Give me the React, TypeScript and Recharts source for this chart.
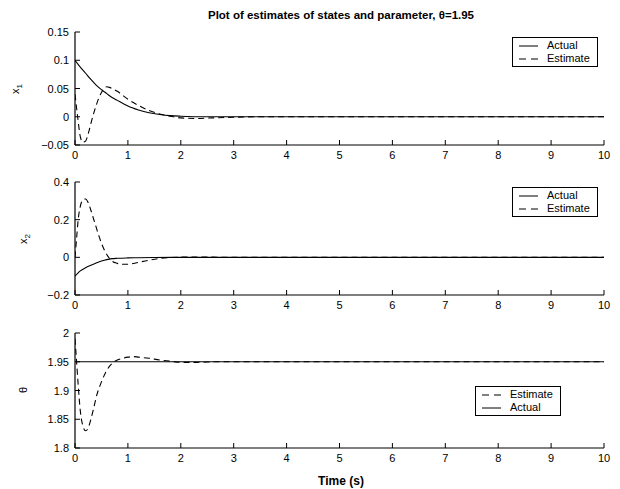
import React from 'react';
import { LineChart, Line, XAxis, YAxis } from 'recharts';

const FONT = '"Liberation Sans", Arial, Helvetica, sans-serif';

const xTicks = [0, 1, 2, 3, 4, 5, 6, 7, 8, 9, 10];
const x1Ticks = [-0.05, 0, 0.05, 0.1, 0.15];
const x2Ticks = [-0.2, 0, 0.2, 0.4];
const thTicks = [1.8, 1.85, 1.9, 1.95, 2];

// x1 actual
const x1ActT = [0, 0.1, 0.2, 0.3, 0.4, 0.5, 0.6, 0.7, 0.8, 0.9, 1.0, 1.2, 1.4, 1.6, 1.8, 2.0, 2.5, 10];
const x1ActV = [0.1, 0.088, 0.077, 0.066, 0.056, 0.048, 0.041, 0.034, 0.029, 0.024, 0.019, 0.012, 0.007, 0.004, 0.002, 0.001, 0, 0];
// x1 estimate
const x1EstT = [0, 0.05, 0.1, 0.15, 0.2, 0.25, 0.3, 0.35, 0.4, 0.45, 0.5, 0.55, 0.6, 0.65, 0.7, 0.8, 0.9, 1.0, 1.2, 1.4, 1.6, 1.8, 2.0, 2.3, 2.6, 3, 3.5, 10];
const x1EstV = [0.04, 0.0, -0.035, -0.045, -0.043, -0.03, -0.012, 0.005, 0.02, 0.033, 0.043, 0.05, 0.053, 0.052, 0.05, 0.045, 0.038, 0.031, 0.02, 0.011, 0.005, 0.001, -0.002, -0.003, -0.002, -0.001, 0, 0];
// x2 actual
const x2ActT = [0, 0.05, 0.1, 0.2, 0.3, 0.4, 0.5, 0.6, 0.7, 0.8, 1.0, 1.2, 1.5, 2, 10];
const x2ActV = [-0.1, -0.085, -0.072, -0.055, -0.042, -0.03, -0.02, -0.012, -0.007, -0.005, -0.003, -0.002, -0.001, 0, 0];
// x2 estimate
const x2EstT = [0, 0.03, 0.06, 0.1, 0.15, 0.2, 0.25, 0.3, 0.35, 0.4, 0.45, 0.5, 0.55, 0.6, 0.65, 0.7, 0.8, 0.9, 1.0, 1.1, 1.2, 1.4, 1.6, 1.8, 2.0, 2.5, 3, 10];
const x2EstV = [0.0, 0.1, 0.2, 0.27, 0.305, 0.31, 0.29, 0.25, 0.205, 0.16, 0.115, 0.075, 0.042, 0.015, -0.005, -0.02, -0.032, -0.037, -0.037, -0.033, -0.027, -0.015, -0.006, -0.001, 0.001, 0.001, 0, 0];
// theta actual
const thActT = [0, 10];
const thActV = [1.95, 1.95];
// theta estimate
const thEstT = [0, 0.03, 0.06, 0.1, 0.15, 0.2, 0.25, 0.3, 0.35, 0.4, 0.5, 0.6, 0.7, 0.8, 0.9, 1.0, 1.1, 1.2, 1.4, 1.6, 1.8, 2.0, 2.3, 2.7, 10];
const thEstV = [1.99, 1.95, 1.91, 1.865, 1.838, 1.83, 1.835, 1.85, 1.868, 1.888, 1.915, 1.935, 1.947, 1.953, 1.956, 1.958, 1.959, 1.958, 1.956, 1.953, 1.951, 1.949, 1.949, 1.95, 1.95];

const zip = (t: number[], v: number[]) => t.map((tt, i) => ({ t: tt, v: v[i] }));

const fmt = (v: number) => String(v).replace('-', '\u2212');

const BottomTick = (p: any) => (
  <g>
    <line x1={p.x} x2={p.x} y1={p.y} y2={p.y - 5} stroke="#000" strokeWidth={1} />
    <text x={p.x} y={p.y + 14} textAnchor="middle" fontSize={11} fontFamily={FONT} fill="#000">{fmt(p.payload.value)}</text>
  </g>
);
const TopTick = (p: any) => (
  <line x1={p.x} x2={p.x} y1={p.y} y2={p.y + 5} stroke="#000" strokeWidth={1} />
);
const LeftTick = (p: any) => (
  <g>
    <line x1={p.x} x2={p.x + 5} y1={p.y} y2={p.y} stroke="#000" strokeWidth={1} />
    <text x={p.x - 6} y={p.y + 4} textAnchor="end" fontSize={11} fontFamily={FONT} fill="#000">{fmt(p.payload.value)}</text>
  </g>
);
const RightTick = (p: any) => (
  <line x1={p.x} x2={p.x - 5} y1={p.y} y2={p.y} stroke="#000" strokeWidth={1} />
);

type Entry = { name: string; dashed: boolean };

const LegendBox = ({ entries, left, top }: { entries: Entry[]; left: number; top: number }) => (
  <div style={{ position: 'absolute', left, top, border: '1px solid #000', background: '#fff', padding: '1px 4px 1px 5px', width: 75, boxSizing: 'content-box' }}>
    {entries.map((e) => (
      <div key={e.name} style={{ display: 'flex', alignItems: 'center', height: 13, fontFamily: FONT, fontSize: 11, color: '#000', lineHeight: '13px' }}>
        <svg width={21} height={10} style={{ marginRight: 8, flex: 'none' }}>
          <line x1={1} x2={20} y1={5} y2={5} stroke="#000" strokeWidth={1} strokeDasharray={e.dashed ? '7 5' : undefined} />
        </svg>
        <span>{e.name}</span>
      </div>
    ))}
  </div>
);

type PanelProps = {
  top: number;
  plotH: number;
  domain: [number, number];
  yTicks: number[];
  actual: { t: number; v: number }[];
  estimate: { t: number; v: number }[];
};

const Panel = ({ top, plotH, domain, yTicks, actual, estimate }: PanelProps) => {
  const H = plotH + 40;
  return (
    <div style={{ position: 'absolute', left: 0, top: top - 10 }}>
      <LineChart width={620} height={H} margin={{ top: 10, right: 16, left: 30, bottom: 0 }}>
        <XAxis xAxisId="b" type="number" dataKey="t" domain={[0, 10]} ticks={xTicks} allowDataOverflow interval={0}
          height={30} tickSize={0} tickMargin={0} tickLine={false} tick={<BottomTick />} axisLine={{ stroke: '#000', strokeWidth: 1.2 }} />
        <XAxis xAxisId="t" orientation="top" type="number" dataKey="t" domain={[0, 10]} ticks={xTicks} allowDataOverflow interval={0}
          height={0} tickSize={0} tickMargin={0} tickLine={false} tick={<TopTick />} axisLine={{ stroke: '#000', strokeWidth: 1.2 }} />
        <YAxis yAxisId="l" type="number" domain={domain} ticks={yTicks} allowDataOverflow width={45} interval={0}
          tickSize={0} tickMargin={0} tickLine={false} tick={<LeftTick />} axisLine={{ stroke: '#000', strokeWidth: 1.2 }} />
        <YAxis yAxisId="r" orientation="right" type="number" domain={domain} ticks={yTicks} allowDataOverflow width={0} interval={0}
          tickSize={0} tickMargin={0} tickLine={false} tick={<RightTick />} axisLine={{ stroke: '#000', strokeWidth: 1.2 }} />
        <Line xAxisId="b" yAxisId="l" data={actual} dataKey="v" type="monotone" stroke="#000" strokeWidth={1.1} dot={false} isAnimationActive={false} name="Actual" />
        <Line xAxisId="b" yAxisId="l" data={estimate} dataKey="v" type="monotone" stroke="#000" strokeWidth={1.1} strokeDasharray="6 4" dot={false} isAnimationActive={false} name="Estimate" />
      </LineChart>
    </div>
  );
};

const YLab = ({ x, y, main, sub }: { x: number; y: number; main: string; sub?: string }) => (
  <text x={x} y={y} transform={`rotate(-90 ${x} ${y})`} textAnchor="middle" fontSize={11} fontFamily={FONT} fill="#000">
    <tspan>{main}</tspan>
    {sub ? <tspan dy={3} fontSize={8}>{sub}</tspan> : null}
  </text>
);

export default function App() {
  return (
    <div style={{ position: 'absolute', left: 0, top: 0, width: 620, height: 489, background: '#fff', overflow: 'hidden' }}>
      <Panel top={32} plotH={113} domain={[-0.05, 0.15]} yTicks={x1Ticks}
        actual={zip(x1ActT, x1ActV)} estimate={zip(x1EstT, x1EstV)} />
      <Panel top={182} plotH={113} domain={[-0.2, 0.4]} yTicks={x2Ticks}
        actual={zip(x2ActT, x2ActV)} estimate={zip(x2EstT, x2EstV)} />
      <Panel top={333} plotH={115} domain={[1.8, 2]} yTicks={thTicks}
        actual={zip(thActT, thActV)} estimate={zip(thEstT, thEstV)} />
      <LegendBox entries={[{ name: 'Actual', dashed: false }, { name: 'Estimate', dashed: true }]} left={512} top={37} />
      <LegendBox entries={[{ name: 'Actual', dashed: false }, { name: 'Estimate', dashed: true }]} left={512} top={187} />
      <LegendBox entries={[{ name: 'Estimate', dashed: true }, { name: 'Actual', dashed: false }]} left={475} top={386} />
      <svg width={620} height={489} style={{ position: 'absolute', left: 0, top: 0, pointerEvents: 'none' }}>
        <text x={341} y={19} textAnchor="middle" fontSize={11.5} fontWeight="bold" fontFamily={FONT} fill="#000">
          Plot of estimates of states and parameter, θ=1.95
        </text>
        <text x={341} y={485} textAnchor="middle" fontSize={12} fontWeight="bold" fontFamily={FONT} fill="#000">Time (s)</text>
        <YLab x={19} y={89} main="x" sub="1" />
        <YLab x={27} y={239} main="x" sub="2" />
        <YLab x={27} y={390} main="θ" />
      </svg>
    </div>
  );
}
